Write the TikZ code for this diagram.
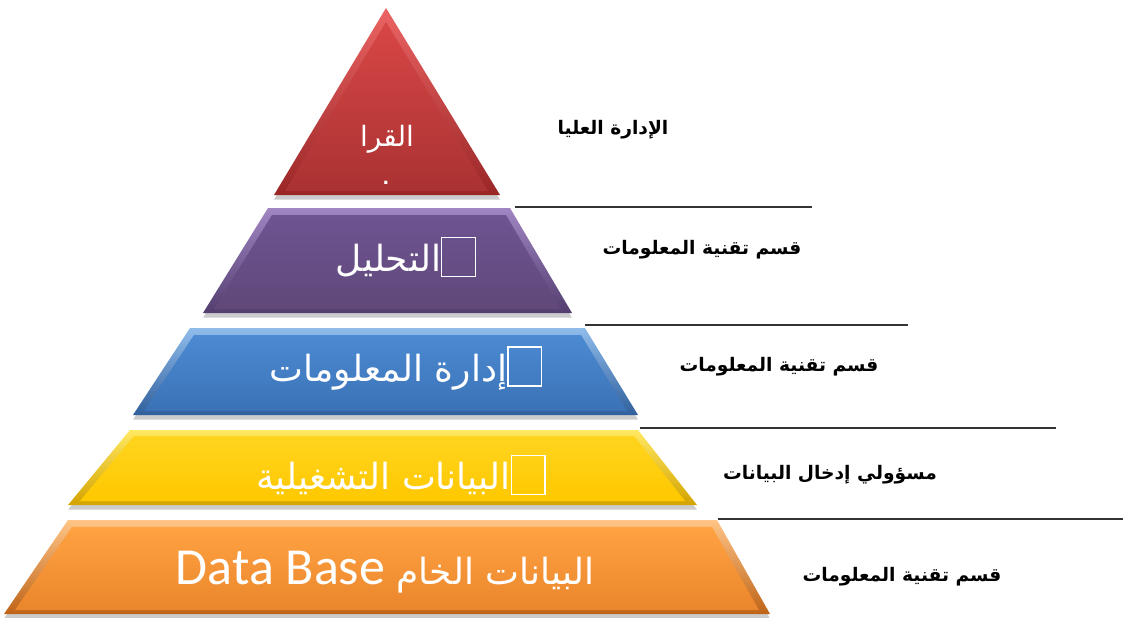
\documentclass[tikz,border=0pt]{standalone}
\usepackage{fontspec}
\usepackage{xcolor}
\usepackage{tikz}
\usetikzlibrary{positioning}
\usetikzlibrary{shadows}
\TeXXeTstate=1
\newfontfamily\arabicfont[Script=Arabic]{DejaVu Sans}
\newfontfamily\latinfont{Carlito}
% missing-glyph box as printed in the picture
\newcommand{\tofu}{\raisebox{-0.12em}{\fboxsep=0pt\fboxrule=1pt\fbox{\rule{0pt}{1.05em}\hspace{0.9em}}}}

\definecolor{redA}{HTML}{EC6464}
\definecolor{redB}{HTML}{9A2626}
\definecolor{redC}{HTML}{D84646}
\definecolor{redD}{HTML}{AA3232}
\definecolor{purA}{HTML}{A086C2}
\definecolor{purB}{HTML}{533E70}
\definecolor{purC}{HTML}{6E5492}
\definecolor{purD}{HTML}{604879}
\definecolor{bluA}{HTML}{90BCEC}
\definecolor{bluB}{HTML}{30609C}
\definecolor{bluC}{HTML}{4C8AD2}
\definecolor{bluD}{HTML}{3B72B6}
\definecolor{yelA}{HTML}{FFE862}
\definecolor{yelB}{HTML}{D4A400}
\definecolor{yelC}{HTML}{FFD41E}
\definecolor{yelD}{HTML}{FFC800}
\definecolor{oraA}{HTML}{FFC486}
\definecolor{oraB}{HTML}{BE6418}
\definecolor{oraC}{HTML}{FFA242}
\definecolor{oraD}{HTML}{EA862C}

\tikzset{
	lvlshadow/.style={
		drop shadow={opacity=0.4, shadow xshift=0pt, shadow yshift=-3.5pt}},
	lvltext/.style={
		text=white,
		inner sep=0pt,
		font=\arabicfont\fontsize{27}{32}\selectfont},
	sidetext/.style={
		text=black,
		inner sep=0pt,
		font=\arabicfont\bfseries\fontsize{14}{17}\selectfont},
	sepline/.style={
		draw=black!80,
		line width=0.9pt}
}

\begin{document}
\begin{tikzpicture}[x=0.75pt, y=-0.75pt]
	\useasboundingbox (0,0) rectangle (1123,617);
	
	% levels of the pyramid
	\shade[lvlshadow, top color=redA, bottom color=redB] (386,8) -- (500,195) -- (274,195) -- cycle;
	\shade[top color=redC, bottom color=redD] (386,22) -- (488,191) -- (285,191) -- cycle;
	
	\shade[lvlshadow, top color=purA, bottom color=purB] (268,208) -- (510,208) -- (572,313) -- (203,313) -- cycle;
	\shade[top color=purC, bottom color=purD] (272,215) -- (506,215) -- (561,309) -- (214,309) -- cycle;
	
	\shade[lvlshadow, top color=bluA, bottom color=bluB] (190,328) -- (585,328) -- (638,415) -- (133,415) -- cycle;
	\shade[top color=bluC, bottom color=bluD] (194,335) -- (581,335) -- (627,411) -- (144,411) -- cycle;
	
	\shade[lvlshadow, top color=yelA, bottom color=yelB] (130,430) -- (638,430) -- (697,505) -- (68,505) -- cycle;
	\shade[top color=yelC, bottom color=yelD] (134,436) -- (634,436) -- (685,501) -- (80,501) -- cycle;
	
	\shade[lvlshadow, top color=oraA, bottom color=oraB] (68,520) -- (717,520) -- (770,614) -- (4,614) -- cycle;
	\shade[top color=oraC, bottom color=oraD] (72,527) -- (712,527) -- (759,610) -- (15,610) -- cycle;
	
	% texts inside
	\node[lvltext, font=\arabicfont\fontsize{21}{25}\selectfont] (t0) at (387,139) {\beginR القرا\endR};
	\node[lvltext, font=\arabicfont\bfseries\fontsize{13}{13}\selectfont] (t0dot) at (386,183) {.};
	\node[lvltext] (t1) at (406,257) {\beginR\tofu التحليل\endR};
	\node[lvltext] (t2) at (406,368) {\beginR\tofu إدارة المعلومات\endR};
	\node[lvltext] (t3) at (401,475) {\beginR\tofu البيانات التشغيلية\endR};
	\node[lvltext] (t4) at (385,572) {\beginR البيانات الخام \beginL{\latinfont\fontsize{39}{44}\selectfont Data Base}\endL\endR};
	
	% side labels
	\node[sidetext] (s0) at (613,130) {\beginR الإدارة العليا\endR};
	\node[sidetext] (s1) at (702,250) {\beginR قسم تقنية المعلومات\endR};
	\node[sidetext] (s2) at (779,367) {\beginR قسم تقنية المعلومات\endR};
	\node[sidetext] (s3) at (830,475) {\beginR مسؤولي إدخال البيانات\endR};
	\node[sidetext] (s4) at (902,577) {\beginR قسم تقنية المعلومات\endR};
	
	% separators
	\coordinate (a1) at (515,207);  \coordinate (b1) at (812,207);
	\coordinate (a2) at (585,325);  \coordinate (b2) at (908,325);
	\coordinate (a3) at (640,428);  \coordinate (b3) at (1056,428);
	\coordinate (a4) at (718,519);  \coordinate (b4) at (1123,519);
	\draw[sepline] (a1) -- (b1);
	\draw[sepline] (a2) -- (b2);
	\draw[sepline] (a3) -- (b3);
	\draw[sepline] (a4) -- (b4);
	
\end{tikzpicture}
\end{document}
